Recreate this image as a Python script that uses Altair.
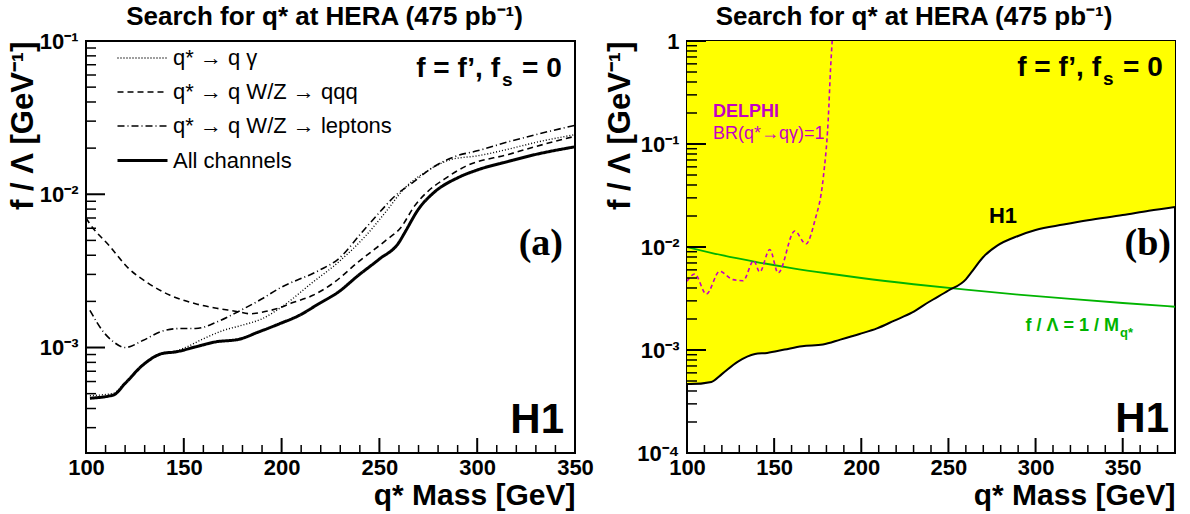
import altair as alt
import pandas as pd

# ---------------- data ----------------
CHANNELS = ["q* → q γ", "q* → q W/Z → qqq", "q* → q W/Z → leptons", "All channels"]

gamma_mass = [102, 114, 120, 129, 139, 146, 150, 160, 170, 180, 190, 200, 216, 229, 243,
              253, 263, 273, 287, 300, 316, 330, 350]
gamma_limit = [4.85e-4, 5.03e-4, 5.9e-4, 7.75e-4, 9.2e-4, 9.5e-4, 9.9e-4, 1.14e-3, 1.29e-3,
               1.40e-3, 1.54e-3, 1.84e-3, 2.67e-3, 3.6e-3, 5.36e-3, 7.6e-3, 1.1e-2, 1.38e-2,
               1.69e-2, 1.78e-2, 1.97e-2, 2.18e-2, 2.45e-2]

qqq_mass = [100, 102, 112, 122, 131, 143, 156, 166, 177, 184, 190, 198, 205, 216, 226, 239,
            253, 261, 268, 275, 283, 294, 316, 330, 350]
qqq_limit = [7.0e-3, 6.4e-3, 4.6e-3, 3.26e-3, 2.67e-3, 2.19e-3, 1.93e-3, 1.81e-3, 1.72e-3,
             1.66e-3, 1.70e-3, 1.80e-3, 1.95e-3, 2.19e-3, 2.61e-3, 3.6e-3, 4.97e-3, 6.07e-3,
             8.4e-3, 1.05e-2, 1.25e-2, 1.52e-2, 1.82e-2, 2.05e-2, 2.39e-2]

lep_mass = [102, 109, 114, 120, 129, 139, 148, 156, 167, 178, 190, 199, 219, 229, 241, 250,
            258, 267, 277, 289, 300, 317, 330, 350]
lep_limit = [1.75e-3, 1.26e-3, 1.09e-3, 1.0e-3, 1.11e-3, 1.28e-3, 1.33e-3, 1.33e-3, 1.47e-3,
             1.72e-3, 2.08e-3, 2.44e-3, 3.18e-3, 3.78e-3, 5.63e-3, 7.6e-3, 9.75e-3, 1.19e-2,
             1.49e-2, 1.77e-2, 1.92e-2, 2.22e-2, 2.45e-2, 2.82e-2]

all_mass = [102, 114, 120, 129, 139, 146, 156, 166, 178, 188, 199, 209, 219, 229, 239, 250,
            260, 263, 270, 278, 290, 300, 316, 330, 350]
all_limit = [4.67e-4, 4.9e-4, 5.83e-4, 7.67e-4, 9.14e-4, 9.37e-4, 1.01e-3, 1.087e-3, 1.13e-3,
             1.26e-3, 1.43e-3, 1.62e-3, 1.93e-3, 2.30e-3, 2.94e-3, 3.78e-3, 4.85e-3, 5.63e-3,
             8.0e-3, 1.03e-2, 1.28e-2, 1.44e-2, 1.64e-2, 1.82e-2, 2.04e-2]

# right panel: H1 combined limit extended to 380 GeV
h1_mass = [100, 102, 114, 120, 129, 139, 146, 156, 166, 178, 188, 199, 209, 219, 229, 239, 250,
           260, 263, 270, 278, 290, 300, 316, 330, 350, 365, 380]
h1_limit = [4.67e-4, 4.67e-4, 4.9e-4, 5.83e-4, 7.67e-4, 9.14e-4, 9.37e-4, 1.01e-3, 1.087e-3,
            1.13e-3, 1.26e-3, 1.43e-3, 1.62e-3, 1.93e-3, 2.30e-3, 2.94e-3, 3.78e-3, 4.85e-3,
            5.63e-3, 8.0e-3, 1.03e-2, 1.28e-2, 1.46e-2, 1.65e-2, 1.82e-2, 2.04e-2, 2.25e-2, 2.45e-2]

# f / Lambda = 1 / M_q*
inv_mass = [100, 120, 140, 160, 180, 200, 230, 260, 290, 320, 350, 380]
inv_limit = [1.0e-2, 8.33e-3, 7.14e-3, 6.25e-3, 5.56e-3, 5.0e-3, 4.35e-3, 3.85e-3, 3.45e-3,
             3.13e-3, 2.86e-3, 2.63e-3]

# DELPHI, BR(q* -> q gamma) = 1
delphi_mass = [100, 104.4, 111.1, 118.7, 126.4, 132.2, 138.3, 141.7, 147.5, 152.3, 161.8,
               168.2, 173.3, 178.2, 181, 182.4, 183.3]
delphi_limit = [4.65e-3, 5.47e-3, 3.49e-3, 5.8e-3, 4.82e-3, 4.71e-3, 7.38e-3, 5.72e-3, 9.46e-3,
                5.6e-3, 1.43e-2, 1.07e-2, 1.79e-2, 4.73e-2, 0.169, 0.55, 1.0]

# axis ticks
left_x_major = [100, 150, 200, 250, 300, 350]
left_x_minor = [110, 120, 130, 140, 160, 170, 180, 190, 210, 220, 230, 240, 260, 270, 280, 290,
                310, 320, 330, 340]
right_x_major = [100, 150, 200, 250, 300, 350]
right_x_minor = [110, 120, 130, 140, 160, 170, 180, 190, 210, 220, 230, 240, 260, 270, 280, 290,
                 310, 320, 330, 340, 360, 370]
left_y_major = [1e-3, 1e-2, 1e-1]
left_y_minor = [3e-4, 4e-4, 5e-4, 6e-4, 7e-4, 8e-4, 9e-4,
                2e-3, 3e-3, 4e-3, 5e-3, 6e-3, 7e-3, 8e-3, 9e-3,
                2e-2, 3e-2, 4e-2, 5e-2, 6e-2, 7e-2, 8e-2, 9e-2]
right_y_major = [1e-4, 1e-3, 1e-2, 1e-1, 1]
right_y_minor = [2e-4, 3e-4, 4e-4, 5e-4, 6e-4, 7e-4, 8e-4, 9e-4,
                 2e-3, 3e-3, 4e-3, 5e-3, 6e-3, 7e-3, 8e-3, 9e-3,
                 2e-2, 3e-2, 4e-2, 5e-2, 6e-2, 7e-2, 8e-2, 9e-2,
                 2e-1, 3e-1, 4e-1, 5e-1, 6e-1, 7e-1, 8e-1, 9e-1]

TITLE = "Search for q* at HERA (475 pb⁻¹)"

# ---------------- styling helpers ----------------
FONT = "Liberation Sans"
SERIF = "Liberation Serif"
W1, W2, H = 489, 488, 412
GREEN = "#00b400"
MAGENTA = "#c400c4"
YELLOW = "#ffff00"

LABEL_EXPR = ("datum.value > 0.5 ? '1' : datum.value > 0.05 ? '10⁻¹' : "
              "datum.value > 0.005 ? '10⁻²' : datum.value > 0.0005 ? '10⁻³' : '10⁻⁴'")


def xscale(domain):
    return alt.Scale(domain=domain, nice=False, zero=False)


def yscale(domain):
    return alt.Scale(type="log", domain=domain, nice=False)


def x_axis(vals):
    return alt.Axis(values=vals, ticks=False, domain=False, grid=False, labelFont=FONT,
                    labelFontWeight="bold", labelFontSize=22, labelColor="black",
                    labelPadding=4, labelFlush=False, title="q* Mass [GeV]", titleFont=FONT,
                    titleFontSize=30, titleFontWeight="bold", titleColor="black",
                    titleAnchor="end", titlePadding=2)


def y_axis(vals):
    return alt.Axis(values=vals, ticks=False, domain=False, grid=False, labelExpr=LABEL_EXPR,
                    labelFont=FONT, labelFontWeight="bold", labelFontSize=22,
                    labelColor="black", labelPadding=8, labelFlush=False,
                    title="f  /  Λ  [GeV⁻¹]", titleFont=FONT, titleFontSize=31,
                    titleFontWeight="bold", titleColor="black", titleAnchor="end",
                    titlePadding=0)


def x_ticks(vals, domain, size, width):
    return alt.Chart(pd.DataFrame({"mass": vals})).mark_rule(
        color="black", strokeWidth=width).encode(
        x=alt.X("mass:Q", scale=xscale(domain)), y=alt.value(H), y2=alt.value(H - size))


def y_ticks(vals, domain, size, width):
    return alt.Chart(pd.DataFrame({"limit": vals})).mark_rule(
        color="black", strokeWidth=width).encode(
        y=alt.Y("limit:Q", scale=yscale(domain)), x=alt.value(0), x2=alt.value(size))


def note(text, x, y, size, color="black", weight="bold", align="left", font=FONT):
    return alt.Chart(pd.DataFrame({"t": [text]})).mark_text(
        align=align, baseline="alphabetic", font=font, fontSize=size, fontWeight=weight,
        color=color).encode(x=alt.value(x), y=alt.value(y), text="t:N")


def panel_title(dx):
    return alt.TitleParams(TITLE, font=FONT, fontSize=26, fontWeight="bold", color="black",
                           anchor="middle", frame="group", offset=0, dx=dx)


# ---------------- left panel ----------------
left_df = pd.concat([
    pd.DataFrame({"mass": gamma_mass, "limit": gamma_limit, "channel": CHANNELS[0]}),
    pd.DataFrame({"mass": qqq_mass, "limit": qqq_limit, "channel": CHANNELS[1]}),
    pd.DataFrame({"mass": lep_mass, "limit": lep_limit, "channel": CHANNELS[2]}),
    pd.DataFrame({"mass": all_mass, "limit": all_limit, "channel": CHANNELS[3]}),
])
LX = [100, 350]
LY = [2.05e-4, 0.1]

legend = alt.Legend(title=None, orient="none", legendX=45, legendY=6,
                    symbolType="M-2.5,0L2.5,0", symbolSize=400, symbolStrokeColor="black",
                    labelFont=FONT, labelFontSize=22, labelColor="black", labelOffset=19,
                    rowPadding=12, labelLimit=400)

left_lines = alt.Chart(left_df).mark_line(color="black", interpolate="monotone", clip=True).encode(
    x=alt.X("mass:Q", scale=xscale(LX), axis=x_axis(left_x_major)),
    y=alt.Y("limit:Q", scale=yscale(LY), axis=y_axis(left_y_major)),
    strokeDash=alt.StrokeDash("channel:N", scale=alt.Scale(
        domain=CHANNELS, range=[[1, 2], [6, 4], [7, 3, 1, 3], [1, 0]]), legend=legend),
    strokeWidth=alt.StrokeWidth("channel:N", scale=alt.Scale(
        type="ordinal", domain=CHANNELS, range=[1.4, 1.6, 1.6, 3.0]), legend=legend),
)

left_notes = [
    note("f = f’, f", 414, 36, 28, align="right"),
    note("s", 416, 45, 19),
    note("= 0", 436, 36, 28),
    note("(a)", 477, 214, 38, font=SERIF, align="right"),
    note("H1", 478, 392, 42, align="right"),
]

left = alt.layer(
    left_lines,
    x_ticks(left_x_major, LX, 15, 2), x_ticks(left_x_minor, LX, 8, 1.5),
    y_ticks(left_y_major, LY, 19, 2), y_ticks(left_y_minor, LY, 10, 1.5),
    *left_notes,
).properties(width=W1, height=H, title=panel_title(-6))

# ---------------- right panel ----------------
RX = [100, 380]
RY = [1e-4, 1]
h1_df = pd.DataFrame({"mass": h1_mass, "limit": h1_limit})
inv_df = pd.DataFrame({"mass": inv_mass, "limit": inv_limit})
delphi_df = pd.DataFrame({"mass": delphi_mass, "limit": delphi_limit})

excluded = alt.Chart(h1_df).mark_area(color=YELLOW, interpolate="monotone", clip=True).encode(
    x=alt.X("mass:Q", scale=xscale(RX), axis=x_axis(right_x_major)),
    y=alt.Y("limit:Q", scale=yscale(RY), axis=y_axis(right_y_major)),
    y2=alt.Y2(datum=1),
)
inv_line = alt.Chart(inv_df).mark_line(color=GREEN, strokeWidth=1.8, interpolate="monotone",
                                       clip=True).encode(
    x=alt.X("mass:Q", scale=xscale(RX)), y=alt.Y("limit:Q", scale=yscale(RY)))
delphi_line = alt.Chart(delphi_df).mark_line(color=MAGENTA, strokeWidth=1.6, strokeDash=[4, 3],
                                             interpolate="monotone", clip=True).encode(
    x=alt.X("mass:Q", scale=xscale(RX)), y=alt.Y("limit:Q", scale=yscale(RY)))
h1_line = alt.Chart(h1_df).mark_line(color="black", strokeWidth=2, interpolate="monotone",
                                     clip=True).encode(
    x=alt.X("mass:Q", scale=xscale(RX)), y=alt.Y("limit:Q", scale=yscale(RY)))

right_notes = [
    note("f = f’, f", 414, 35, 28, align="right"),
    note("s", 416, 44, 19),
    note("= 0", 436, 35, 28),
    note("(b)", 484, 214, 38, font=SERIF, align="right"),
    note("H1", 482, 391, 42, align="right"),
    note("H1", 316, 182, 22, align="center"),
    note("DELPHI", 26, 76, 18, color=MAGENTA),
    note("BR(q*→qγ)=1", 26, 98, 18, color=MAGENTA, weight="normal"),
    note("f / Λ  = 1 / M", 432, 290, 18, color=GREEN, align="right"),
    note("q*", 433, 296, 13, color=GREEN),
]

right = alt.layer(
    excluded, inv_line, delphi_line, h1_line,
    x_ticks(right_x_major, RX, 15, 2), x_ticks(right_x_minor, RX, 8, 1.5),
    y_ticks(right_y_major, RY, 19, 2), y_ticks(right_y_minor, RY, 10, 1.5),
    *right_notes,
).properties(width=W2, height=H, title=panel_title(-17))

chart = alt.hconcat(left, right, spacing=8).properties(
    padding={"left": 6, "top": 3, "right": 4, "bottom": 0},
    background="white",
).configure_view(stroke="black", strokeWidth=2)

chart.save("out.html", embed_options={"renderer": "svg", "actions": False})
